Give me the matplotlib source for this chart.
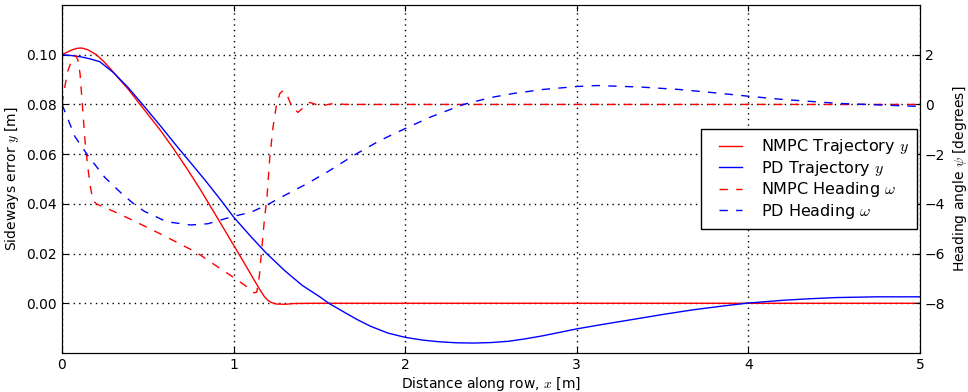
import matplotlib
matplotlib.use("Agg")
import matplotlib.pyplot as plt
from matplotlib.legend_handler import HandlerLine2D

plt.rcParams['font.family'] = ['DejaVu Sans']
plt.rcParams['mathtext.fontset'] = 'cm'
plt.rcParams['axes.unicode_minus'] = True

# ---- data ----
nmpc_traj_x = [0, 0.03, 0.06, 0.09, 0.115, 0.15, 0.2, 0.24, 0.28, 0.33, 0.385, 0.455,
               0.571, 0.65, 0.73, 0.804, 0.9, 1.0, 1.05, 1.1, 1.15, 1.18, 1.2, 1.22,
               1.25, 1.3, 1.35, 1.45, 5.0]
nmpc_traj_y = [0.1000, 0.1010, 0.1020, 0.1026, 0.1027, 0.1020, 0.1000, 0.0975, 0.0945,
               0.0905, 0.0862, 0.0800, 0.0698, 0.0622, 0.0540, 0.0460, 0.0350, 0.0234,
               0.0176, 0.0117, 0.0058, 0.0026, 0.0012, 0.0003, -0.0003, -0.0004,
               -0.0001, 0.0, 0.0]

pd_traj_x = [0, 0.05, 0.105, 0.16, 0.22, 0.3, 0.385, 0.455, 0.571, 0.668, 0.75, 0.833,
             0.92, 1.0, 1.096, 1.19, 1.3, 1.4, 1.5, 1.555, 1.65, 1.727, 1.8, 1.9, 2.0,
             2.1, 2.2, 2.3, 2.4, 2.5, 2.6, 2.7, 2.8, 2.9, 3.0, 3.15, 3.3, 3.51, 3.67,
             3.85, 4.0, 4.2, 4.35, 4.51, 4.75, 5.0]
pd_traj_y = [0.1000, 0.0997, 0.0992, 0.0984, 0.0972, 0.0928, 0.0868, 0.0812, 0.0716,
             0.0633, 0.0565, 0.0496, 0.0420, 0.0347, 0.0272, 0.0202, 0.0130, 0.0072,
             0.0027, 0.0, -0.0038, -0.0068, -0.0093, -0.0120, -0.0137, -0.0148,
             -0.0155, -0.0159, -0.0160, -0.0158, -0.0153, -0.0143, -0.0131, -0.0117,
             -0.0103, -0.0085, -0.0068, -0.0044, -0.0027, -0.0011, 0.0001, 0.0012,
             0.0018, 0.0023, 0.0026, 0.0026]

nmpc_head_x = [0, 0.02, 0.035, 0.05, 0.065, 0.08, 0.092, 0.105, 0.12, 0.134, 0.15,
               0.165, 0.18, 0.2, 0.3, 0.415, 0.6, 0.785, 0.9, 1.0, 1.07, 1.12, 1.135,
               1.15, 1.165, 1.18, 1.195, 1.21, 1.23, 1.25, 1.27, 1.29, 1.31, 1.34,
               1.375, 1.41, 1.445, 1.48, 1.51, 1.55, 1.59, 1.65, 5.0]
nmpc_head_psi = [0, 0.85, 1.37, 1.65, 1.88, 1.97, 1.8, 1.25, -0.15, -1.45, -2.5, -3.3,
                 -3.85, -4.0, -4.3, -4.67, -5.3, -5.96, -6.5, -6.96, -7.3, -7.58, -7.55,
                 -6.9, -5.75, -4.6, -3.7, -2.2, -0.9, 0.0, 0.45, 0.56, 0.4, -0.1, -0.32,
                 -0.1, 0.08, 0.0, -0.08, 0.0, 0.04, 0.0, 0.0]

pd_head_x = [0, 0.076, 0.15, 0.25, 0.35, 0.415, 0.48, 0.61, 0.75, 0.85, 1.0, 1.096,
             1.19, 1.3, 1.43, 1.55, 1.7, 1.853, 2.0, 2.15, 2.34, 2.5, 2.63, 2.8, 3.0,
             3.12, 3.37, 3.6, 3.8, 4.0, 4.2, 4.53, 4.8, 5.0]
pd_head_psi = [0, -1.3, -2.05, -2.94, -3.6, -3.98, -4.3, -4.72, -4.85, -4.8, -4.5,
               -4.35, -4.06, -3.65, -3.18, -2.7, -2.05, -1.45, -0.97, -0.5, 0.0, 0.28,
               0.44, 0.6, 0.72, 0.76, 0.70, 0.60, 0.47, 0.33, 0.2, 0.04, -0.03, -0.08]

y_ticks = [0.00, 0.02, 0.04, 0.06, 0.08, 0.10]
psi_ticks = [-8, -6, -4, -2, 0, 2]
x_ticks = [0, 1, 2, 3, 4, 5]

fig = plt.figure(figsize=(9.68, 3.92), dpi=100)
ax = fig.add_axes([62/968, 39/392, 858/968, 348/392])
ax2 = ax.twinx()

l1, = ax.plot(nmpc_traj_x, nmpc_traj_y, color='red', lw=1.0, label=r'NMPC Trajectory $y$')
l2, = ax.plot(pd_traj_x, pd_traj_y, color='blue', lw=1.0, label=r'PD Trajectory $y$')
l3, = ax2.plot(nmpc_head_x, nmpc_head_psi, color='red', lw=1.0, ls=(0, (6, 6)),
               label=r'NMPC Heading $\omega$')
l4, = ax2.plot(pd_head_x, pd_head_psi, color='blue', lw=1.0, ls=(0, (6, 6)),
               label=r'PD Heading $\omega$')

ax.set_xlim(0, 5)
ax.set_ylim(-0.02, 0.12)
ax2.set_ylim(-10, 4)
ax.set_xticks(x_ticks)
ax.set_xticklabels([str(v) for v in x_ticks])
ax.set_yticks(y_ticks)
ax.set_yticklabels(['%.2f' % v for v in y_ticks])
ax2.set_yticks(psi_ticks)

ax.grid(True, color='black', ls=(0, (1, 3)), lw=1.0)
ax.tick_params(direction='in', length=4, top=True, labelsize=10)
ax.tick_params(axis='y', right=False)
ax2.tick_params(direction='in', length=4, labelsize=10)

ax.set_xlabel(r'Distance along row, $x$ [m]', fontsize=10, labelpad=2)
ax.set_ylabel(r'Sideways error $y$ [m]', fontsize=10)
ax2.set_ylabel(r'Heading angle $\psi$ [degrees]', fontsize=10)

handles = [l1, l2, l3, l4]
leg = ax2.legend(handles=handles, loc='center right', fontsize=11.5,
                 fancybox=False, framealpha=1, edgecolor='black',
                 handlelength=2.06, handletextpad=1.2, borderpad=0.5,
                 labelspacing=0.15, borderaxespad=0.2,
                 handler_map={h: HandlerLine2D(xpad=0.63) for h in handles})
leg.get_frame().set_linewidth(1.0)

fig.savefig('out.png', dpi=100)
